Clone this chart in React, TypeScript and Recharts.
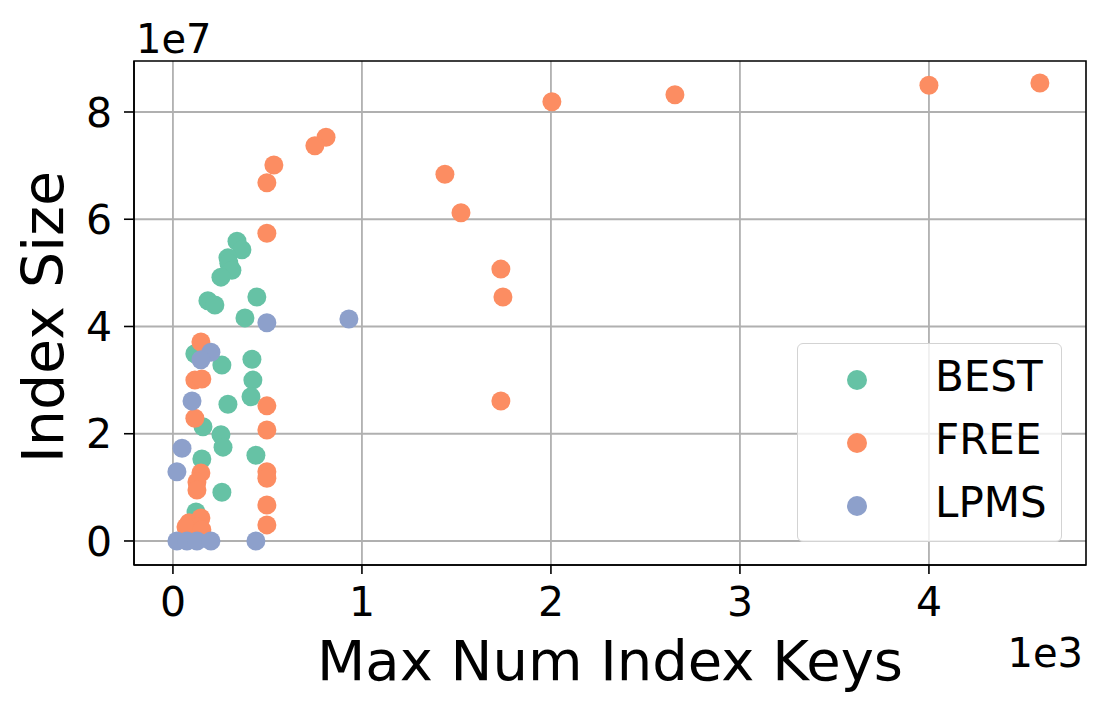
import { ScatterChart, Scatter, XAxis, YAxis, CartesianGrid, ReferenceArea } from 'recharts'

// max num index keys (x) and index size (y) per strategy
const bestKeys = [339, 365, 291, 296, 312, 254, 444, 185, 222, 381, 116, 418, 259, 423, 413, 291, 159, 254, 265, 439, 153, 259, 122]
const bestSize = [5.59e7, 5.43e7, 5.28e7, 5.18e7, 5.05e7, 4.92e7, 4.55e7, 4.48e7, 4.4e7, 4.16e7, 3.49e7, 3.39e7, 3.28e7, 3.0e7, 2.69e7, 2.55e7, 2.13e7, 1.98e7, 1.75e7, 1.6e7, 1.53e7, 0.91e7, 0.54e7]

const freeKeys = [4587, 4000, 2656, 2005, 810, 751, 534, 497, 1439, 1524, 497, 1735, 1746, 1735, 148, 116, 153, 116, 497, 497, 148, 127, 127, 497, 497, 497, 497, 85, 148, 127, 69, 153]
const freeSize = [8.54e7, 8.5e7, 8.32e7, 8.19e7, 7.53e7, 7.37e7, 7.01e7, 6.68e7, 6.84e7, 6.12e7, 5.74e7, 5.07e7, 4.55e7, 2.61e7, 3.71e7, 3.0e7, 3.02e7, 2.29e7, 2.52e7, 2.07e7, 1.27e7, 1.1e7, 0.95e7, 1.29e7, 1.17e7, 0.67e7, 0.3e7, 0.34e7, 0.43e7, 0.26e7, 0.26e7, 0.21e7]

const lpmsKeys = [931, 497, 201, 148, 101, 48, 21, 21, 74, 127, 201, 439]
const lpmsSize = [4.14e7, 4.07e7, 3.52e7, 3.38e7, 2.61e7, 1.73e7, 1.29e7, 0, 0, 0, 0, 0]

const xTicks = [0, 1000, 2000, 3000, 4000]
const yTicks = [0, 2e7, 4e7, 6e7, 8e7]

const seriesNames = ['BEST', 'FREE', 'LPMS']
const colors = ['#66c2a5', '#fc8d62', '#8da0cb']

const toPoints = (xs: number[], ys: number[]) => xs.map((x, i) => ({ x, y: ys[i] }))

const font = 'DejaVu Sans, sans-serif'
const xDomain = [-206, 4831]
const yDomain = [-0.448e7, 8.951e7]

const dot = (color: string) => (props: any) => (
  <circle cx={props.cx} cy={props.cy} r={9.5} fill={color} />
)

function LegendBox() {
  return (
    <div
      style={{
        position: 'absolute',
        left: 797,
        top: 343,
        width: 263,
        height: 197,
        border: '1.5px solid #d3d3d3',
        borderRadius: 6,
        background: 'rgba(255,255,255,0.8)',
        fontFamily: font,
        fontSize: 42,
      }}
    >
      {seriesNames.map((name, i) => (
        <div key={name}>
          <svg width={20} height={20} style={{ position: 'absolute', left: 49, top: 26 + i * 63 }}>
            <circle cx={10} cy={10} r={10} fill={colors[i]} />
          </svg>
          <span style={{ position: 'absolute', left: 137, top: 8 + i * 63, lineHeight: '50px', whiteSpace: 'nowrap' }}>{name}</span>
        </div>
      ))}
    </div>
  )
}

export default function App() {
  return (
    <div style={{ position: 'absolute', left: 0, top: 0, width: 1105, height: 713, background: '#fff' }}>
      <ScatterChart width={1105} height={713} margin={{ top: 61, right: 19, bottom: 118, left: 74 }}>
        <CartesianGrid stroke="#b0b0b0" strokeWidth={1.8} horizontalValues={yTicks} verticalValues={xTicks} />
        <XAxis
          type="number"
          dataKey="x"
          domain={xDomain}
          ticks={xTicks}
          allowDataOverflow
          height={30}
          tickLine={{ stroke: '#000', strokeWidth: 1.6 }}
          axisLine={{ stroke: '#000', strokeWidth: 1.6 }}
          tickSize={9}
          tickMargin={13}
          tick={{ fill: '#000', fontSize: 41, fontFamily: font }}
          tickFormatter={(v: number) => String(v / 1000)}
          label={{
            content: (p: any) => {
              const vb = p.viewBox
              return (
                <g>
                  <text x={vb.x + vb.width / 2} y={680} textAnchor="middle" fontSize={56} fontFamily={font} fill="#000">
                    Max Num Index Keys
                  </text>
                  <text x={1083} y={667} textAnchor="end" fontSize={40} fontFamily={font} fill="#000">
                    1e3
                  </text>
                </g>
              )
            },
          }}
        />
        <YAxis
          type="number"
          dataKey="y"
          domain={yDomain}
          ticks={yTicks}
          allowDataOverflow
          width={60}
          tickLine={{ stroke: '#000', strokeWidth: 1.6 }}
          axisLine={{ stroke: '#000', strokeWidth: 1.6 }}
          tickSize={10}
          tickMargin={12}
          tick={{ fill: '#000', fontSize: 41, fontFamily: font }}
          tickFormatter={(v: number) => String(v / 1e7)}
          label={{
            content: () => (
              <g>
                <text x={63} y={317} textAnchor="middle" fontSize={57} fontFamily={font} fill="#000" transform="rotate(-90 63 317)">
                  Index Size
                </text>
                <text x={136} y={53} textAnchor="start" fontSize={40} fontFamily={font} fill="#000">
                  1e7
                </text>
              </g>
            ),
          }}
        />
        {/* top + right spines */}
        <ReferenceArea x1={xDomain[0]} x2={xDomain[1]} y1={yDomain[0]} y2={yDomain[1]} fill="none" stroke="#000" strokeWidth={1.6} ifOverflow="visible" />
        <Scatter name="BEST" data={toPoints(bestKeys, bestSize)} fill={colors[0]} shape={dot(colors[0])} isAnimationActive={false} />
        <Scatter name="FREE" data={toPoints(freeKeys, freeSize)} fill={colors[1]} shape={dot(colors[1])} isAnimationActive={false} />
        <Scatter name="LPMS" data={toPoints(lpmsKeys, lpmsSize)} fill={colors[2]} shape={dot(colors[2])} isAnimationActive={false} />
      </ScatterChart>
      <LegendBox />
    </div>
  )
}
